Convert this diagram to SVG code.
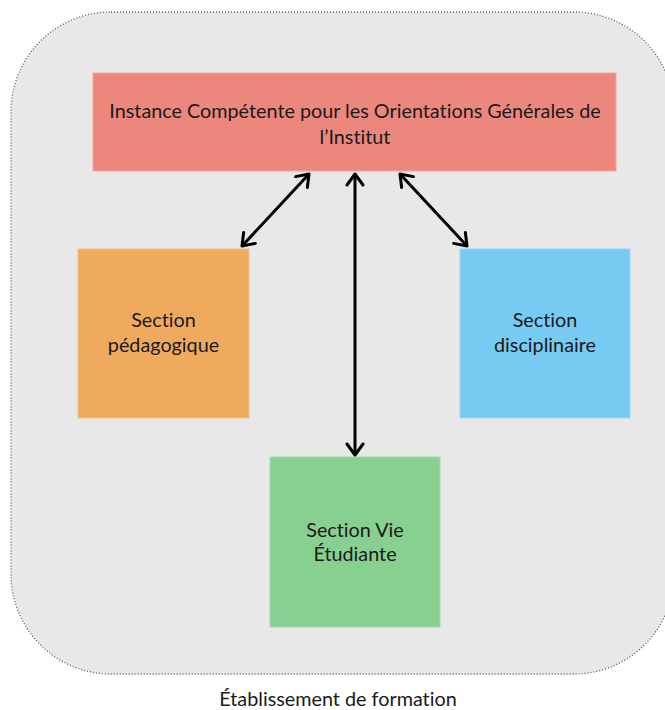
<svg xmlns="http://www.w3.org/2000/svg" width="665" height="710" viewBox="0 0 665 710">
  <style>
    .lbl { font-family: Lato, "Open Sans", "Liberation Sans", sans-serif; font-size: 19.8px; fill: #1a1a1a; text-anchor: middle; font-variant-ligatures: none; font-feature-settings: "liga" 0; }
    .box { stroke-width: 1; }
    .conn { stroke: #000; stroke-width: 3; fill: none; }
  </style>
  <defs>
    <marker id="arr" viewBox="-14 -10 16 20" markerWidth="16" markerHeight="20" refX="0" refY="0" orient="auto-start-reverse" markerUnits="userSpaceOnUse">
      <path d="M-11,-8 L0,0 L-11,8" fill="none" stroke="#000" stroke-width="3" stroke-linejoin="round" stroke-linecap="round"/>
    </marker>
  </defs>
  <rect width="665" height="710" fill="#ffffff"/>
  <g id="container">
    <rect x="11" y="12" width="663" height="662" rx="100" ry="100" fill="#e8e8e8" stroke="#555" stroke-width="1.3" stroke-dasharray="1 2"/>
    <text class="lbl" x="338" y="706">Établissement de formation</text>
  </g>
  <g id="icog">
    <rect class="box" x="93" y="73" width="523" height="98" fill="#ec877e" stroke="#f0a8a2"/>
    <text class="lbl" x="355" y="118">Instance Compétente pour les Orientations Générales de</text>
    <text class="lbl" x="355" y="144">l’Institut</text>
  </g>
  <g id="pedagogique">
    <rect class="box" x="78" y="249" width="171" height="169" fill="#efaa5e" stroke="#f3c08a"/>
    <text class="lbl" x="163.5" y="327">Section</text>
    <text class="lbl" x="163.5" y="352">pédagogique</text>
  </g>
  <g id="disciplinaire">
    <rect class="box" x="460" y="249" width="170" height="169" fill="#77cbf2" stroke="#9ad8f5"/>
    <text class="lbl" x="545" y="327">Section</text>
    <text class="lbl" x="545" y="352">disciplinaire</text>
  </g>
  <g id="vie-etudiante">
    <rect class="box" x="270" y="457" width="170" height="170" fill="#88d090" stroke="#a4dcaa"/>
    <text class="lbl" x="355" y="537">Section Vie</text>
    <text class="lbl" x="355" y="561">Étudiante</text>
  </g>
  <g id="connectors">
    <line class="conn" x1="309" y1="174" x2="242" y2="246" marker-start="url(#arr)" marker-end="url(#arr)"/>
    <line class="conn" x1="355" y1="174" x2="355" y2="455" marker-start="url(#arr)" marker-end="url(#arr)"/>
    <line class="conn" x1="400" y1="174" x2="467" y2="246" marker-start="url(#arr)" marker-end="url(#arr)"/>
  </g>
</svg>
